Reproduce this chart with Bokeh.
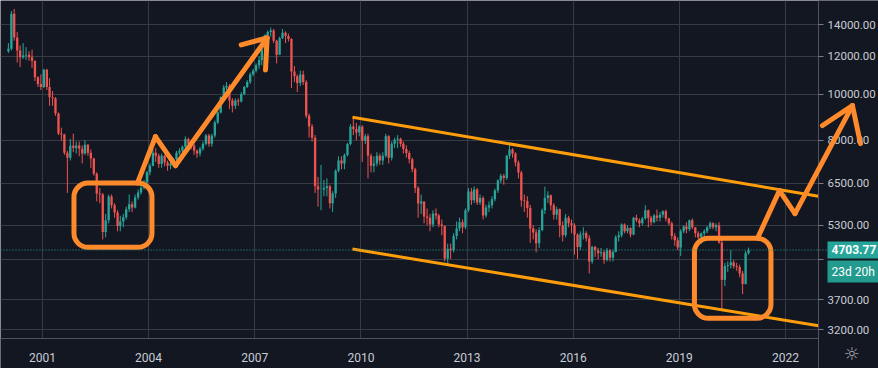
from datetime import datetime, timedelta
from bokeh.plotting import figure
from bokeh.models import (Range1d, FixedTicker, NumeralTickFormatter, DatetimeTickFormatter,
                          ColumnDataSource, Span, Label, Arrow)
from bokeh.embed import file_html
from bokeh.resources import INLINE

# ---------------- data: monthly candles Jan 2000 .. Dec 2020 ----------------
first_open = 12300
close = [
    12450, 14750, 13150, 12350, 11950, 12050, 12100, 11950, 11750, 10850, 10500, 10350,  # 2000
    11250, 10350, 9850, 9800, 9100, 8260, 8220, 7530, 7350, 7790, 7700, 7800,            # 2001
    7680, 7500, 7830, 7530, 7320, 6800, 6180, 6150, 5130, 5430, 6090, 5840,              # 2002
    5640, 5280, 5400, 5510, 5730, 5870, 5780, 6060, 6210, 6360, 6520, 6850,              # 2003
    7070, 7530, 7420, 7130, 7420, 7180, 7070, 7150, 7300, 7530, 7600, 7750,              # 2004
    8050, 7860, 7800, 7600, 7500, 7680, 7860, 8180, 7860, 8180, 8720, 9150,              # 2005
    9850, 10330, 10400, 9700, 9450, 9700, 9650, 10000, 10350, 10600, 11000, 11200,       # 2006
    11500, 11800, 12400, 13300, 13500, 13600, 12950, 12100, 13100, 13450, 13250, 13050,  # 2007
    11150, 10900, 10550, 11000, 10600, 9000, 8550, 8100, 6400, 6300, 6300, 6350,         # 2008
    6400, 5900, 6180, 6900, 7250, 7150, 7450, 7850, 8550, 8450, 8300, 8550,              # 2009
    7980, 8150, 7420, 7070, 7150, 7420, 7250, 7420, 8150, 7350, 7860, 8020,              # 2010
    8060, 7860, 7670, 7520, 7300, 6950, 6350, 5890, 5950, 5530, 5500, 5320,              # 2011
    5610, 5560, 5320, 5280, 4510, 4730, 4700, 5030, 5220, 5380, 5250, 5700,              # 2012
    6240, 5980, 6300, 5920, 6050, 5560, 5780, 5840, 6010, 6270, 6580, 6740,              # 2013
    6660, 7420, 7650, 7500, 7180, 6840, 5980, 5960, 5760, 5220, 5120, 4860,              # 2014
    5180, 5700, 6050, 6130, 5840, 5580, 5730, 5300, 5050, 5500, 5350, 5300,              # 2015
    5070, 4770, 5070, 5100, 4980, 4450, 4770, 4700, 4630, 4650, 4480, 4700,              # 2016
    4530, 4660, 5000, 5050, 5320, 5150, 5230, 5070, 5500, 5430, 5350, 5480,              # 2017
    5700, 5500, 5380, 5560, 5500, 5580, 5670, 5480, 5350, 5030, 4930, 4760,              # 2018
    5150, 5270, 5200, 5430, 5250, 5100, 5000, 5100, 5150, 5250, 5350, 5250,              # 2019
    5300, 4880, 4070, 4350, 4370, 4430, 4350, 4330, 4200, 3990, 4630, 4703.77,           # 2020
]
high = [
    12800, 14950, 15100, 13500, 12650, 12800, 12550, 12300, 12400, 11750, 10900, 11000,
    11300, 11300, 10800, 10150, 9850, 9150, 8500, 8250, 7600, 8050, 8260, 7950,
    7950, 7800, 8000, 7850, 7650, 7350, 6850, 6350, 6200, 5600, 6150, 6150,
    5900, 5700, 5550, 5600, 5800, 6150, 5950, 6150, 6300, 6450, 6600, 6900,
    7150, 7650, 7700, 7500, 7500, 7450, 7250, 7250, 7350, 7600, 7700, 7800,
    8150, 8100, 7950, 7850, 7650, 7750, 7950, 8250, 8250, 8250, 8800, 9200,
    9900, 10450, 10600, 10500, 9800, 9800, 9800, 10100, 10400, 10700, 11100, 11300,
    11600, 12000, 12500, 13350, 13600, 13800, 13700, 13000, 13200, 13700, 13550, 13400,
    13100, 11450, 11000, 11200, 11200, 10700, 9100, 8650, 8200, 6700, 7100, 6600,
    6650, 6450, 6250, 6950, 7400, 7400, 7500, 7900, 8650, 8950, 8700, 8600,
    8600, 8250, 8250, 7500, 7400, 7550, 7500, 7550, 8250, 8200, 7950, 8100,
    8200, 8100, 7950, 7800, 7600, 7350, 7000, 6400, 6150, 5950, 5750, 5600,
    5700, 5750, 5600, 5450, 5300, 4850, 4850, 5100, 5400, 5500, 5450, 5750,
    6350, 6350, 6400, 6350, 6150, 6100, 5850, 5950, 6100, 6330, 6620, 6800,
    6800, 7450, 7850, 7700, 7550, 7250, 6900, 6150, 6100, 5850, 5300, 5200,
    5250, 5750, 6390, 6250, 6150, 5900, 5800, 5750, 5400, 5600, 5550, 5450,
    5350, 5100, 5150, 5250, 5150, 5050, 4800, 4800, 4750, 4750, 4700, 4750,
    4720, 4700, 5050, 5150, 5350, 5350, 5300, 5250, 5520, 5580, 5480, 5520,
    5840, 5720, 5550, 5600, 5720, 5650, 5700, 5720, 5500, 5400, 5100, 5000,
    5200, 5300, 5380, 5450, 5480, 5200, 5150, 5120, 5200, 5280, 5400, 5380,
    5350, 5380, 4950, 4420, 4450, 4700, 4480, 4420, 4380, 4250, 4680, 4760,
]
low = [
    12200, 12350, 12950, 11650, 11400, 11850, 11800, 11750, 11350, 10650, 10350, 10200,
    10300, 10200, 9450, 9450, 9000, 8200, 7980, 7450, 6200, 7250, 7550, 7500,
    7400, 7150, 7450, 7420, 7000, 6740, 5950, 5900, 4950, 5000, 5350, 5750,
    5500, 5150, 5150, 5250, 5450, 5650, 5650, 5750, 6000, 6150, 6300, 6450,
    6750, 7050, 7200, 7000, 7000, 7050, 6900, 6950, 7100, 7250, 7450, 7550,
    7650, 7750, 7650, 7450, 7350, 7400, 7600, 7800, 7750, 7750, 8100, 8650,
    9100, 9750, 10200, 9300, 9150, 9300, 9450, 9600, 9950, 10300, 10500, 10900,
    11100, 11300, 11500, 12400, 13100, 13200, 12800, 11600, 12100, 13050, 12800, 12900,
    10300, 10600, 10100, 10400, 10450, 8900, 8100, 7950, 6200, 5800, 5700, 6100,
    6100, 5750, 5650, 6050, 6850, 6950, 6950, 7400, 7800, 8200, 8000, 8150,
    7200, 7850, 6650, 6850, 6850, 7050, 7100, 7100, 7350, 7150, 7250, 7700,
    7700, 7750, 7500, 7350, 7150, 6850, 6200, 5500, 5600, 5350, 5300, 5150,
    5250, 5450, 5250, 5050, 4450, 4370, 4500, 4650, 4950, 5150, 5100, 5200,
    5650, 5850, 5900, 5850, 5850, 5450, 5500, 5650, 5750, 5950, 6200, 6500,
    6450, 6600, 7300, 7350, 7050, 6650, 5800, 5650, 5500, 4870, 4950, 4650,
    4750, 5150, 5600, 5900, 5700, 5450, 5450, 5000, 4900, 5000, 5250, 5100,
    4600, 4500, 4700, 4950, 4900, 4200, 4400, 4550, 4500, 4550, 4400, 4450,
    4450, 4450, 4650, 4900, 5000, 5100, 5100, 5000, 5050, 5380, 5250, 5300,
    5450, 5250, 5300, 5350, 5400, 5400, 5500, 5400, 5300, 4950, 4800, 4700,
    4570, 5100, 5100, 5150, 5200, 5000, 4950, 4850, 5000, 5100, 5200, 5200,
    5150, 4850, 3510, 3950, 4230, 4300, 4300, 4250, 4120, 3800, 3980, 4600,
]
price_ticks = [3200, 3700, 4500, 5300, 6500, 8000, 10000, 12000, 14000]
year_ticks = [2001, 2004, 2007, 2010, 2013, 2016, 2019, 2022]
countdown_text = "23d 20h"

# drawings (date, price)
channel_dates = ["2009-10-06", "2022-12-08"]
channel_upper = [8940, 6100]
channel_lower = [4726, 3259]
box_left = ["2001-11-22", "2019-06-06"]
box_right = ["2004-02-05", "2021-08-04"]
box_top = [6503, 4979]
box_bottom = [4766, 3379]
path_a = [("2003-09-08", 6503), ("2004-03-12", 8140), ("2004-10-05", 7075), ("2007-05-09", 13120)]
head_a = [("2006-08-14", 12690), ("2007-05-09", 13120), ("2007-04-22", 11240)]
path_b = [("2021-03-18", 4979), ("2021-10-31", 6270), ("2022-04-09", 5610), ("2023-11-23", 9460)]
head_b = [("2023-01-18", 8590), ("2023-11-23", 9460), ("2024-02-14", 7870)]

# ---------------- styling ----------------
BG = "#131722"
GRID = "#363a45"
AXIS = "#50535e"
TXT = "#c9ccd4"
UP = "#26a69a"
DOWN = "#ef5350"
PEN = "#ff8a2b"
CHAN = "#ff9d0a"
EPOCH = datetime(1970, 1, 1)
W, H = 878, 368

# view geometry (time axis: 2001-01-01 at 42px, 743px per 7670 days; log price axis)
T0 = datetime(2001, 1, 1)
PXD = 743.0 / 7670.0
X_START = T0 + timedelta(days=-42 / PXD)
X_END = T0 + timedelta(days=(W - 42) / PXD)
X_AXIS_AT = T0 + timedelta(days=(818 - 42) / PXD)
Y_TOP, Y_BOT, Y_AXIS_AT = 15727.0, 2651.0, 3068.0


def ms(d):
    if isinstance(d, str):
        d = datetime.fromisoformat(d)
    return (d - EPOCH).total_seconds() * 1000.0


n = len(close)
dates = [datetime(2000 + i // 12, i % 12 + 1, 15) for i in range(n)]
opens = [first_open] + close[:-1]
hi = [max(h, o, c) for h, o, c in zip(high, opens, close)]
lo = [min(l, o, c) for l, o, c in zip(low, opens, close)]
colors = [UP if c >= o else DOWN for o, c in zip(opens, close)]
src = ColumnDataSource(dict(
    x=dates, o=opens, c=close, h=hi, l=lo,
    top=[max(o, c) for o, c in zip(opens, close)],
    bot=[min(o, c) for o, c in zip(opens, close)],
    color=colors,
))

p = figure(width=W, height=H, x_axis_type="datetime", y_axis_type="log",
           x_range=Range1d(X_START, X_END), y_range=Range1d(Y_BOT, Y_TOP),
           y_axis_location="right", toolbar_location=None, output_backend="svg",
           min_border=0, min_border_left=0, min_border_top=0, min_border_right=0,
           min_border_bottom=0,
           background_fill_color=BG, border_fill_color=BG, outline_line_color=None)

# axes drawn at fixed locations inside the frame (price scale on the right, time scale below)
ya = p.yaxis[0]
ya.fixed_location = ms(X_AXIS_AT)
ya.ticker = FixedTicker(ticks=price_ticks)
ya.formatter = NumeralTickFormatter(format="0.00")
ya.major_label_overrides = {4500: ""}
ya.axis_line_color = AXIS
ya.major_tick_line_color = "#787b86"
ya.major_tick_out = 5
ya.major_tick_in = 0
ya.minor_tick_line_color = None
ya.major_label_text_color = TXT
ya.major_label_text_font = "Roboto"
ya.major_label_text_font_size = "11.5px"
ya.major_label_standoff = 4

xa = p.xaxis[0]
xa.fixed_location = Y_AXIS_AT
xa.bounds = (ms(X_START), ms(X_AXIS_AT))
xa.ticker = FixedTicker(ticks=[ms(datetime(y, 1, 1)) for y in year_ticks])
xa.formatter = DatetimeTickFormatter(years="%Y", months="%Y", days="%Y", hours="%Y",
                                     minutes="%Y", seconds="%Y", milliseconds="%Y")
xa.axis_line_color = AXIS
xa.major_tick_line_color = None
xa.minor_tick_line_color = None
xa.major_label_text_color = TXT
xa.major_label_text_font = "Roboto"
xa.major_label_text_font_size = "12px"
xa.major_label_standoff = 9

p.xgrid.grid_line_color = GRID
p.ygrid.grid_line_color = GRID

# scale panels cover the grid
p.quad(left=[X_AXIS_AT, X_START], right=[X_END, X_AXIS_AT],
       top=[Y_TOP, Y_AXIS_AT], bottom=[Y_BOT, Y_BOT],
       fill_color=BG, line_color=None)

# candles
p.segment(x0="x", y0="l", x1="x", y1="h", line_color="color", line_width=1, source=src)
p.vbar(x="x", width=24 * 86400000, top="top", bottom="bot", fill_color="color",
       line_color=None, source=src)

# channel
cd = [datetime.fromisoformat(s) for s in channel_dates]
p.line(cd, channel_upper, line_color=CHAN, line_width=3)
p.line(cd, channel_lower, line_color=CHAN, line_width=3)

# focus boxes
p.quad(left=[datetime.fromisoformat(s) for s in box_left],
       right=[datetime.fromisoformat(s) for s in box_right],
       top=box_top, bottom=box_bottom, fill_color=None, line_color=PEN,
       line_width=5, border_radius=14)


def pen_path(pts):
    for (d0, v0), (d1, v1) in zip(pts[:-1], pts[1:]):
        p.add_layout(Arrow(end=None, x_start=ms(d0), y_start=v0, x_end=ms(d1), y_end=v1,
                           line_color=PEN, line_width=5, line_cap="round"))


for path in (path_a, head_a, path_b, head_b):
    pen_path(path)

# last price line and badges
last = close[-1]
p.add_layout(Span(location=last, dimension="width", line_color=UP, line_width=1,
                  line_dash="1 2"))
p.add_layout(Label(x=827, y=last, x_units="screen", y_units="data", text=f"{last:.2f}",
                   text_color="white", text_font="Roboto", text_font_size="12px",
                   text_font_style="bold", text_baseline="middle", text_align="left",
                   background_fill_color=UP, padding=4))
p.add_layout(Label(x=827, y=97, x_units="screen", y_units="screen", text=countdown_text,
                   text_color="white", text_font="Roboto", text_font_size="12px",
                   text_baseline="middle", text_align="left",
                   background_fill_color="#229a8e", padding=4))
p.add_layout(Label(x=851, y=15, x_units="screen", y_units="screen", text="\u263c",
                   text_color="#a3a6af", text_font="DejaVu Sans", text_font_size="18px",
                   text_baseline="middle", text_align="center"))

open("out.html", "w").write(file_html(p, INLINE))
